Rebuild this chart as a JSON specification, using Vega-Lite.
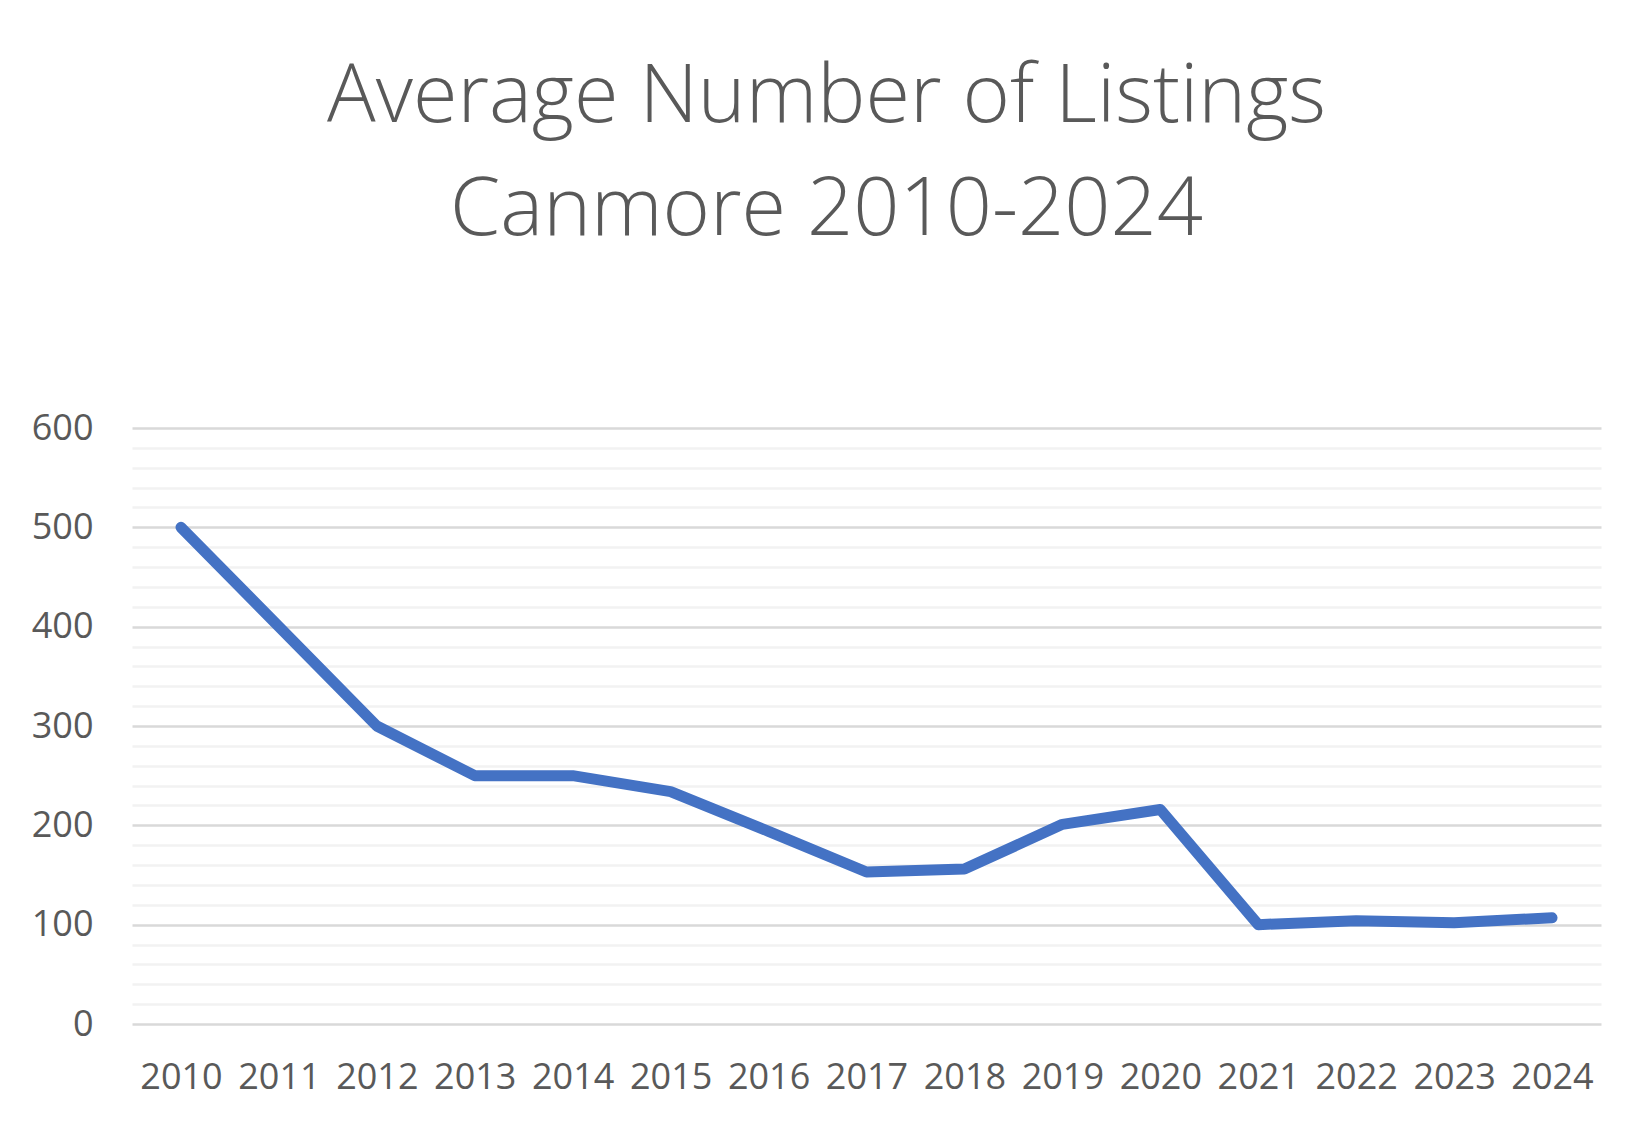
{
  "$schema": "https://vega.github.io/schema/vega-lite/v6.json",
  "autosize": {"type": "none"},
  "width": 1469,
  "height": 596,
  "padding": {"left": 132, "top": 428, "right": 51, "bottom": 108},
  "background": "white",
  "title": {
    "text": ["Average Number of Listings", "Canmore 2010-2024"],
    "frame": "group",
    "anchor": "middle",
    "dx": -40,
    "offset": 158,
    "font": "Open Sans",
    "fontWeight": 300,
    "fontSize": 81,
    "lineHeight": 113,
    "color": "#595959"
  },
  "data": {
    "values": [
      {"year": "2010", "listings": 500},
      {"year": "2011", "listings": 400},
      {"year": "2012", "listings": 300},
      {"year": "2013", "listings": 250},
      {"year": "2014", "listings": 250},
      {"year": "2015", "listings": 234},
      {"year": "2016", "listings": 194},
      {"year": "2017", "listings": 153},
      {"year": "2018", "listings": 156},
      {"year": "2019", "listings": 201},
      {"year": "2020", "listings": 216},
      {"year": "2021", "listings": 100},
      {"year": "2022", "listings": 104},
      {"year": "2023", "listings": 102},
      {"year": "2024", "listings": 107}
    ]
  },
  "mark": {"type": "line", "color": "#4472C4", "strokeWidth": 11, "strokeCap": "round", "strokeJoin": "round"},
  "encoding": {
    "x": {
      "field": "year",
      "type": "ordinal",
      "scale": {"paddingInner": 0, "paddingOuter": 0},
      "axis": {
        "title": null,
        "labelAngle": 0,
        "labelPadding": 36,
        "ticks": false,
        "tickSize": 0,
        "domain": false,
        "grid": false,
        "labelFont": "Open Sans",
        "labelFontSize": 36,
        "labelColor": "#595959"
      }
    },
    "y": {
      "field": "listings",
      "type": "quantitative",
      "scale": {"domain": [0, 600], "nice": false, "zero": true},
      "axis": {
        "title": null,
        "values": [0, 20, 40, 60, 80, 100, 120, 140, 160, 180, 200, 220, 240, 260, 280, 300, 320, 340, 360, 380, 400, 420, 440, 460, 480, 500, 520, 540, 560, 580, 600],
        "labelExpr": "datum.value % 100 === 0 ? datum.label : ''",
        "ticks": false,
        "tickSize": 0,
        "domain": false,
        "grid": true,
        "gridColor": {"condition": {"test": "datum.value % 100 === 0", "value": "#d9d9d9"}, "value": "#f2f2f2"},
        "gridWidth": 2.5,
        "labelPadding": 39,
        "labelFont": "Open Sans",
        "labelFontSize": 36,
        "labelColor": "#595959"
      }
    }
  },
  "config": {"view": {"stroke": null}}
}
